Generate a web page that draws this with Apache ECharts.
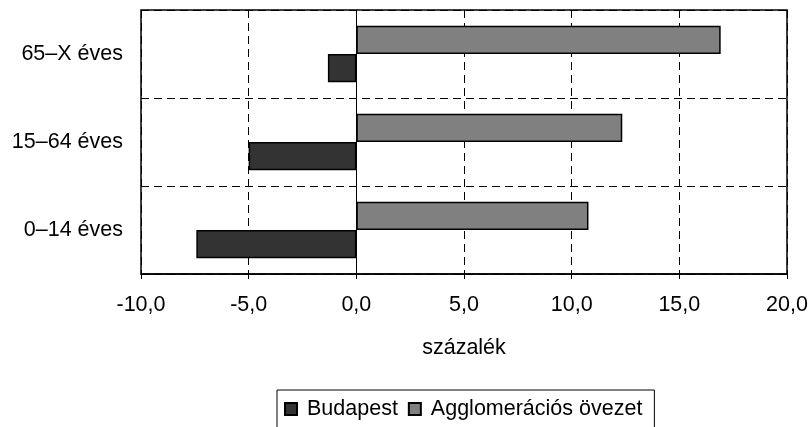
<!DOCTYPE html>
<html><head><meta charset="utf-8">
<script src="https://cdn.jsdelivr.net/npm/echarts@6/dist/echarts.min.js"></script>
<style>html,body{margin:0;padding:0;background:#fff}#c{width:811px;height:427px}</style>
</head><body><div id="c"></div>
<script>
const categories = ['0–14 éves', '15–64 éves', '65–X éves'];
const budapest = [-7.43, -5.0, -1.32];
const agglomeracio = [10.78, 12.35, 16.92];
const seriesNames = ['Budapest', 'Agglomerációs övezet'];
const xAxisName = 'százalék';

const chart = echarts.init(document.getElementById('c'), null, {renderer: 'canvas'});
const font = 'Liberation Sans, Arial, sans-serif';
const fs = 21.5;
chart.setOption({
  animation: false,
  textStyle: {fontFamily: font},
  grid: {left: 141, right: 24, top: 10, bottom: 153, show: true, borderColor: '#000', borderWidth: 1.5, containLabel: false},
  xAxis: {
    type: 'value', min: -10, max: 20, interval: 5,
    name: xAxisName, nameLocation: 'middle', nameGap: 63,
    nameTextStyle: {fontSize: fs, color: '#000', fontFamily: font},
    axisLine: {show: true, onZero: false, lineStyle: {color: '#000', width: 1.5}},
    axisTick: {show: true, length: 5, lineStyle: {color: '#000'}},
    axisLabel: {fontSize: fs, color: '#000', margin: 20, fontFamily: font,
      formatter: v => v.toFixed(1).replace('.', ',')},
    splitLine: {show: true, lineStyle: {color: '#000', type: [8, 5], width: 1}}
  },
  yAxis: {
    type: 'category', data: categories,
    axisLine: {show: true, onZero: true, lineStyle: {color: '#000', width: 1}},
    axisTick: {show: false},
    axisLabel: {fontSize: fs, color: '#000', margin: 18, fontFamily: font},
    splitLine: {show: true, lineStyle: {color: '#000', type: [8, 5], width: 1}}
  },
  legend: {
    top: 390, left: 277,
    data: seriesNames,
    borderColor: '#000', borderWidth: 1, padding: [8, 12, 12, 7],
    itemWidth: 12, itemHeight: 12, itemGap: 10,
    textStyle: {fontSize: fs, color: '#000', fontFamily: font, padding: [0, 0, 0, 5]},
    icon: 'rect'
  },
  series: [
    {name: seriesNames[1], type: 'bar', data: agglomeracio, barGap: '0%', barCategoryGap: '36%',
     itemStyle: {color: '#808080', borderColor: '#000', borderWidth: 1.5}},
    {name: seriesNames[0], type: 'bar', data: budapest, barGap: '0%', barCategoryGap: '36%',
     itemStyle: {color: '#333333', borderColor: '#000', borderWidth: 1.5}}
  ]
});
</script></body></html>
